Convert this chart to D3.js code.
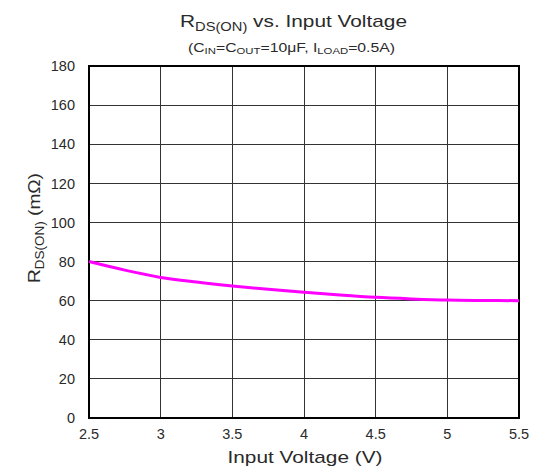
<!DOCTYPE html>
<html><head><meta charset="utf-8">
<script src="https://cdn.jsdelivr.net/npm/d3@7/dist/d3.min.js"></script>
<style>body{margin:0;background:#fff}svg{font-family:"Liberation Sans",Arial,sans-serif}text{fill:#2a2a2a}</style>
</head><body><svg id="c" width="534" height="474"></svg>
<script>
const voltage = [2.5, 2.75, 3.0, 3.25, 3.5, 3.75, 4.0, 4.25, 4.5, 4.75, 5.0, 5.25, 5.5];
const rdson   = [80, 75.6, 71.9, 69.5, 67.5, 65.8, 64.3, 62.9, 61.7, 60.9, 60.3, 60.1, 60.0];
const xTicks = [2.5, 3, 3.5, 4, 4.5, 5, 5.5];
const yTicks = [0, 20, 40, 60, 80, 100, 120, 140, 160, 180];

const svg = d3.select("#c");
const L = 89, R = 519, T = 66, B = 418;
const x = d3.scaleLinear().domain([2.5, 5.5]).range([L, R]);
const y = d3.scaleLinear().domain([0, 180]).range([B, T]);

// grid
svg.append("g").selectAll("line").data(xTicks.slice(1, -1)).join("line")
  .attr("x1", d => x(d)).attr("x2", d => x(d)).attr("y1", T).attr("y2", B)
  .attr("stroke", "#333").attr("stroke-width", 1).attr("shape-rendering","crispEdges");
svg.append("g").selectAll("line").data(yTicks.slice(1, -1)).join("line")
  .attr("x1", L).attr("x2", R).attr("y1", d => y(d)).attr("y2", d => y(d))
  .attr("stroke", "#333").attr("stroke-width", 1).attr("shape-rendering","crispEdges");

// frame
svg.append("rect").attr("x", L).attr("y", T).attr("width", R - L).attr("height", B - T)
  .attr("fill", "none").attr("stroke", "#000").attr("stroke-width", 2);

// curve
svg.append("path").datum(voltage.map((v, i) => [v, rdson[i]]))
  .attr("d", d3.line().x(d => x(d[0])).y(d => y(d[1])).curve(d3.curveMonotoneX))
  .attr("fill", "none").attr("stroke", "#ff00ff").attr("stroke-width", 3);

// tick labels
svg.append("g").selectAll("text").data(yTicks).join("text")
  .attr("x", 75).attr("y", d => y(d)).attr("dy", "0.36em").attr("text-anchor", "end")
  .attr("font-size", 14.5).text(d => d);
svg.append("g").selectAll("text").data(xTicks).join("text")
  .attr("x", d => x(d)).attr("y", 439).attr("text-anchor", "middle")
  .attr("font-size", 14.5).text(d => d);

// axis titles
svg.append("text").attr("x", 305).attr("y", 463).attr("text-anchor", "middle")
  .attr("font-size", 17).attr("textLength", 155).attr("lengthAdjust", "spacingAndGlyphs")
  .text("Input Voltage (V)");
const yl = svg.append("text").attr("transform", "translate(40,228) rotate(-90)")
  .attr("text-anchor", "middle").attr("font-size", 17)
  .attr("textLength", 110).attr("lengthAdjust", "spacingAndGlyphs");
yl.append("tspan").text("R");
yl.append("tspan").attr("font-size", 12).attr("dy", 4).text("DS(ON)");
yl.append("tspan").attr("dy", -4).text(" (mΩ)");

// titles
const t = svg.append("text").attr("x", 293.5).attr("y", 27).attr("text-anchor", "middle").attr("font-size", 17)
  .attr("textLength", 227).attr("lengthAdjust", "spacingAndGlyphs");
t.append("tspan").text("R");
t.append("tspan").attr("font-size", 12).attr("dy", 4).text("DS(ON)");
t.append("tspan").attr("dy", -4).text(" vs. Input Voltage");

const s = svg.append("text").attr("x", 291.5).attr("y", 52).attr("text-anchor", "middle").attr("font-size", 12.5)
  .attr("textLength", 207).attr("lengthAdjust", "spacingAndGlyphs");
s.append("tspan").text("(C");
s.append("tspan").attr("font-size", 9).attr("dy", 2).text("IN");
s.append("tspan").attr("dy", -2).text("=C");
s.append("tspan").attr("font-size", 9).attr("dy", 2).text("OUT");
s.append("tspan").attr("dy", -2).text("=10μF, I");
s.append("tspan").attr("font-size", 9).attr("dy", 2).text("LOAD");
s.append("tspan").attr("dy", -2).text("=0.5A)");
</script></body></html>
